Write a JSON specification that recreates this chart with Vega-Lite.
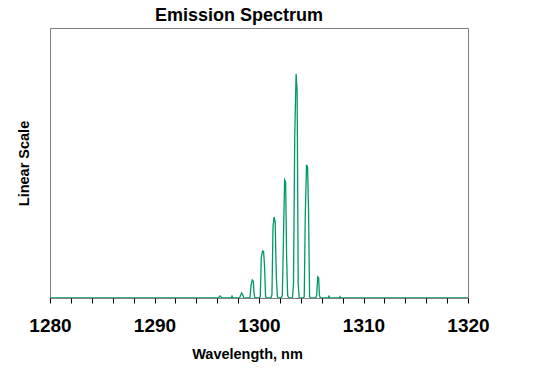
{
  "$schema": "https://vega.github.io/schema/vega-lite/v6.json",
  "width": 418,
  "height": 270,
  "autosize": {"type": "none"},
  "padding": {"left": 50, "top": 28, "right": 77, "bottom": 78},
  "background": "white",
  "config": {
    "view": {"stroke": "#808080", "strokeWidth": 1},
    "font": "Liberation Sans"
  },
  "title": {
    "text": "Emission Spectrum",
    "fontSize": 18,
    "fontWeight": "bold",
    "font": "Liberation Sans",
    "color": "black",
    "anchor": "middle",
    "dx": -20,
    "offset": 3
  },
  "data": {
    "values": [
      {"wavelength": 1280, "intensity": 0},
      {"wavelength": 1296.15, "intensity": 0},
      {"wavelength": 1296.22, "intensity": 0.007},
      {"wavelength": 1296.32, "intensity": 0.007},
      {"wavelength": 1296.4, "intensity": 0},
      {"wavelength": 1297.35, "intensity": 0},
      {"wavelength": 1297.42, "intensity": 0.007},
      {"wavelength": 1297.5, "intensity": 0},
      {"wavelength": 1298.14, "intensity": 0},
      {"wavelength": 1298.24, "intensity": 0.01},
      {"wavelength": 1298.34, "intensity": 0.019},
      {"wavelength": 1298.44, "intensity": 0.012},
      {"wavelength": 1298.54, "intensity": 0},
      {"wavelength": 1299.13, "intensity": 0},
      {"wavelength": 1299.23, "intensity": 0.045},
      {"wavelength": 1299.36, "intensity": 0.067},
      {"wavelength": 1299.46, "intensity": 0.062},
      {"wavelength": 1299.52, "intensity": 0.02},
      {"wavelength": 1299.6, "intensity": 0},
      {"wavelength": 1300.02, "intensity": 0},
      {"wavelength": 1300.12, "intensity": 0.005},
      {"wavelength": 1300.22, "intensity": 0.15},
      {"wavelength": 1300.34, "intensity": 0.174},
      {"wavelength": 1300.44, "intensity": 0.172},
      {"wavelength": 1300.53, "intensity": 0.118},
      {"wavelength": 1300.63, "intensity": 0.005},
      {"wavelength": 1300.73, "intensity": 0},
      {"wavelength": 1301.14, "intensity": 0},
      {"wavelength": 1301.24, "intensity": 0.012},
      {"wavelength": 1301.34, "intensity": 0.263},
      {"wavelength": 1301.44, "intensity": 0.3},
      {"wavelength": 1301.55, "intensity": 0.282},
      {"wavelength": 1301.66, "intensity": 0.078},
      {"wavelength": 1301.76, "intensity": 0.005},
      {"wavelength": 1301.86, "intensity": 0},
      {"wavelength": 1302.13, "intensity": 0},
      {"wavelength": 1302.23, "intensity": 0.01},
      {"wavelength": 1302.33, "intensity": 0.196},
      {"wavelength": 1302.45, "intensity": 0.437},
      {"wavelength": 1302.55, "intensity": 0.43},
      {"wavelength": 1302.64, "intensity": 0.155},
      {"wavelength": 1302.74, "intensity": 0.01},
      {"wavelength": 1302.84, "intensity": 0},
      {"wavelength": 1303.2, "intensity": 0},
      {"wavelength": 1303.3, "intensity": 0.052},
      {"wavelength": 1303.42, "intensity": 0.6},
      {"wavelength": 1303.55, "intensity": 0.83},
      {"wavelength": 1303.65, "intensity": 0.765},
      {"wavelength": 1303.75, "intensity": 0.052},
      {"wavelength": 1303.85, "intensity": 0},
      {"wavelength": 1304.23, "intensity": 0},
      {"wavelength": 1304.33, "intensity": 0.005},
      {"wavelength": 1304.43, "intensity": 0.31},
      {"wavelength": 1304.55, "intensity": 0.493},
      {"wavelength": 1304.65, "intensity": 0.485},
      {"wavelength": 1304.74, "intensity": 0.325},
      {"wavelength": 1304.84, "intensity": 0.005},
      {"wavelength": 1304.94, "intensity": 0},
      {"wavelength": 1305.42, "intensity": 0},
      {"wavelength": 1305.52, "intensity": 0.01},
      {"wavelength": 1305.62, "intensity": 0.078},
      {"wavelength": 1305.71, "intensity": 0.074},
      {"wavelength": 1305.78, "intensity": 0.01},
      {"wavelength": 1305.88, "intensity": 0},
      {"wavelength": 1306.62, "intensity": 0},
      {"wavelength": 1306.7, "intensity": 0.007},
      {"wavelength": 1306.78, "intensity": 0},
      {"wavelength": 1307.68, "intensity": 0},
      {"wavelength": 1307.75, "intensity": 0.005},
      {"wavelength": 1307.82, "intensity": 0},
      {"wavelength": 1320, "intensity": 0}
    ]
  },
  "mark": {"type": "line", "color": "#009966", "strokeWidth": 1.3, "interpolate": "linear", "clip": true},
  "encoding": {
    "x": {
      "field": "wavelength",
      "type": "quantitative",
      "scale": {"domain": [1280, 1320], "nice": false, "zero": false},
      "axis": {
        "title": "Wavelength, nm",
        "values": [1280,1282,1284,1286,1288,1290,1292,1294,1296,1298,1300,1302,1304,1306,1308,1310,1312,1314,1316,1318,1320],
        "labelExpr": "datum.value % 10 === 0 ? datum.label : ''",
        "format": "d",
        "grid": false,
        "domain": false,
        "ticks": true,
        "tickColor": "black",
        "tickSize": 5,
        "tickWidth": 1,
        "labelFont": "Liberation Sans",
        "labelFontSize": 19,
        "labelFontWeight": "bold",
        "labelColor": "black",
        "labelPadding": 13,
        "labelFlush": false,
        "labelOverlap": false,
        "titleFont": "Liberation Sans",
        "titleFontSize": 14.5,
        "titleFontWeight": "bold",
        "titleColor": "black",
        "titlePadding": 12,
        "titleX": 197
      }
    },
    "y": {
      "field": "intensity",
      "type": "quantitative",
      "scale": {"domain": [0, 1], "nice": false},
      "axis": {
        "title": "Linear Scale",
        "labels": false,
        "ticks": false,
        "grid": false,
        "domain": false,
        "titleFont": "Liberation Sans",
        "titleFontSize": 14.5,
        "titleFontWeight": "bold",
        "titleColor": "black",
        "titlePadding": 19
      }
    }
  }
}
